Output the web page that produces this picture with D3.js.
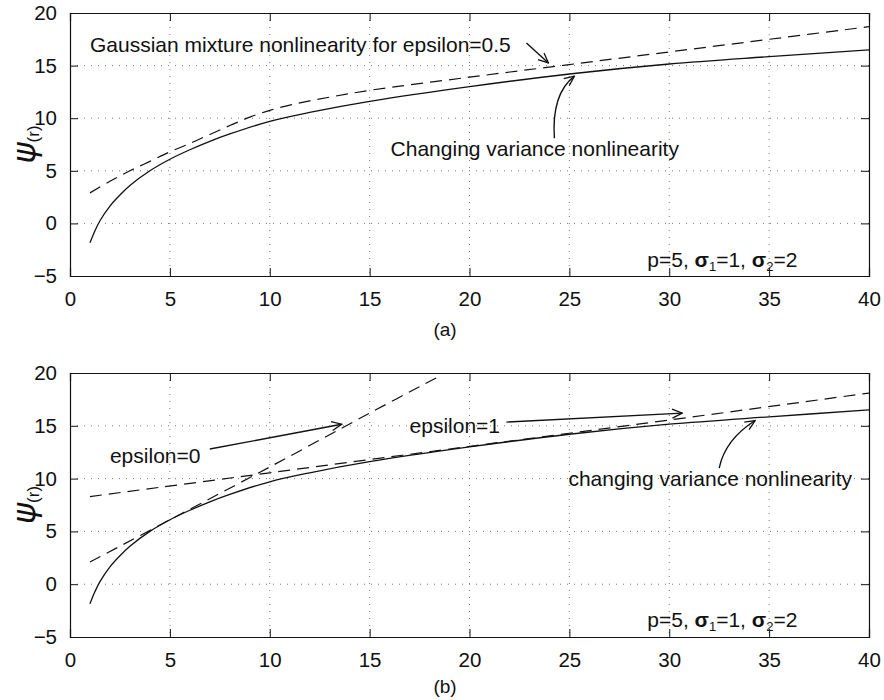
<!DOCTYPE html>
<html>
<head>
<meta charset="utf-8">
<script src="https://cdn.jsdelivr.net/npm/d3@7"></script>
<style>
  html, body { margin: 0; padding: 0; background: #fff; }
  svg { display: block; }
  text { font-family: "Liberation Sans", Arial, Helvetica, sans-serif; fill: #111; }
</style>
</head>
<body>
<svg id="chart" width="884" height="700"></svg>
<script>
// ---------------- data ----------------
const xTicks = [0, 5, 10, 15, 20, 25, 30, 35, 40];
const yTicks = [-5, 0, 5, 10, 15, 20];

// changing variance nonlinearity (solid, both panels)
const rChanging   = [1, 1.25, 1.5, 2, 2.5, 3, 4, 5, 6, 7, 8, 10, 12, 15, 20, 25, 30, 35, 40];
const psiChanging = [-1.85, -0.7, 0.25, 1.65, 2.7, 3.6, 5.0, 6.1, 7.0, 7.8, 8.5, 9.7, 10.55, 11.6, 13.0, 14.2, 15.15, 15.85, 16.5];

// Gaussian mixture nonlinearity, epsilon = 0.5 (dashed, panel a)
const rMix05   = [1, 2, 3, 4, 5, 6, 7, 8, 9, 10, 11, 12, 13, 15, 20, 25, 30, 35, 40];
const psiMix05 = [2.9, 4.0, 5.0, 5.9, 6.8, 7.6, 8.45, 9.3, 10.1, 10.75, 11.25, 11.65, 12.0, 12.65, 13.9, 15.1, 16.3, 17.5, 18.7];

// epsilon = 0 (dashed, panel b)
const rEps0   = [1, 5, 10, 15, 18.6];
const psiEps0 = [2.1, 6.1, 11.1, 16.2, 19.8];

// epsilon = 1 (dashed, panel b)
const rEps1   = [1, 10, 20, 30, 40];
const psiEps1 = [8.3, 10.55, 13.05, 15.55, 18.1];

// annotations (data coordinates)
const annotA = [
  { text: "Gaussian mixture nonlinearity for epsilon=0.5", x: 1.0, y: 16.25 },
  { text: "Changing variance nonlinearity", x: 16.05, y: 6.4 }
];
const arrowsA = [
  { pts: [[22.85, 17.15], [23.95, 15.25]], curved: false },
  { pts: [[24.25, 8.1], [24.1, 12.3], [25.25, 14.0]], curved: true }
];
const annotB = [
  { text: "epsilon=0", x: 2.0, y: 11.45 },
  { text: "epsilon=1", x: 17.0, y: 14.35 },
  { text: "changing variance nonlinearity", x: 24.95, y: 9.3 }
];
const arrowsB = [
  { pts: [[7.0, 12.8], [13.6, 15.15]], curved: false },
  { pts: [[21.85, 15.35], [30.65, 16.2]], curved: false },
  { pts: [[32.5, 11.0], [32.8, 13.7], [34.3, 15.5]], curved: true }
];
const paramPos = { x: 28.9, y: -4.1 };

// ---------------- layout ----------------
const svg = d3.select("#chart");
const left = 70, right = 869;
const panels = [
  { top: 13, bottom: 276, caption: "(a)", capY: 336, dashed: [[rMix05, psiMix05]], annots: annotA, arrows: arrowsA, id: "a" },
  { top: 373, bottom: 637, caption: "(b)", capY: 693, dashed: [[rEps0, psiEps0], [rEps1, psiEps1]], annots: annotB, arrows: arrowsB, id: "b" }
];

const defs = svg.append("defs");
defs.append("marker")
  .attr("id", "arrowhead")
  .attr("viewBox", "0 0 12 12")
  .attr("refX", 11).attr("refY", 6)
  .attr("markerWidth", 12).attr("markerHeight", 12)
  .attr("markerUnits", "userSpaceOnUse")
  .attr("orient", "auto")
  .append("path")
  .attr("d", "M1,1.5 L11,6 L1,10.5")
  .attr("fill", "none").attr("stroke", "#111").attr("stroke-width", 1.3);

panels.forEach(p => {
  const x = d3.scaleLinear().domain([0, 40]).range([left, right]);
  const y = d3.scaleLinear().domain([-5, 20]).range([p.bottom, p.top]);
  const g = svg.append("g");

  defs.append("clipPath").attr("id", "clip-" + p.id)
    .append("rect").attr("x", left).attr("y", p.top)
    .attr("width", right - left).attr("height", p.bottom - p.top);

  // grid
  g.append("g").selectAll("line").data(xTicks.slice(1, -1)).join("line")
    .attr("x1", d => x(d)).attr("x2", d => x(d))
    .attr("y1", p.top).attr("y2", p.bottom)
    .attr("stroke", "#777").attr("stroke-width", 1).attr("stroke-dasharray", "1,6");
  g.append("g").selectAll("line").data(yTicks.slice(1, -1)).join("line")
    .attr("y1", d => y(d)).attr("y2", d => y(d))
    .attr("x1", left).attr("x2", right)
    .attr("stroke", "#777").attr("stroke-width", 1).attr("stroke-dasharray", "1,6");

  // axes (MATLAB style, inward ticks on four sides)
  const tl = 8;
  const axB = d3.axisBottom(x).tickValues(xTicks).tickSize(-tl).tickPadding(tl + 7).tickFormat(d3.format("d"));
  const axT = d3.axisTop(x).tickValues(xTicks).tickSize(-tl).tickFormat("");
  const axL = d3.axisLeft(y).tickValues(yTicks).tickSize(-tl).tickPadding(tl + 5).tickFormat(d => d < 0 ? "\u2212" + Math.abs(d) : d);
  const axR = d3.axisRight(y).tickValues(yTicks).tickSize(-tl).tickFormat("");
  const gb = g.append("g").attr("transform", `translate(0,${p.bottom})`).call(axB);
  const gt = g.append("g").attr("transform", `translate(0,${p.top})`).call(axT);
  const gl = g.append("g").attr("transform", `translate(${left},0)`).call(axL);
  const gr = g.append("g").attr("transform", `translate(${right},0)`).call(axR);
  [gb, gt, gl, gr].forEach(a => {
    a.select(".domain").attr("stroke", "#111").attr("stroke-width", 1.2);
    a.selectAll(".tick line").attr("stroke", "#111").attr("stroke-width", 1);
    a.selectAll(".tick text").attr("font-size", 20.5).attr("fill", "#111")
      .attr("font-family", '"Liberation Sans", Arial, sans-serif');
  });
  gb.selectAll(".tick text").attr("dy", "0.71em");

  // lines
  const line = d3.line().x(d => x(d[0])).y(d => y(d[1])).curve(d3.curveCatmullRom.alpha(0.5));
  const lines = g.append("g").attr("clip-path", `url(#clip-${p.id})`);
  lines.append("path")
    .datum(rChanging.map((r, i) => [r, psiChanging[i]]))
    .attr("d", line).attr("fill", "none").attr("stroke", "#111").attr("stroke-width", 1.3);
  p.dashed.forEach(([rs, vs]) => {
    lines.append("path")
      .datum(rs.map((r, i) => [r, vs[i]]))
      .attr("d", line).attr("fill", "none").attr("stroke", "#111")
      .attr("stroke-width", 1.2).attr("stroke-dasharray", "12,7");
  });

  // annotations
  p.annots.forEach(a => {
    g.append("text").attr("x", x(a.x)).attr("y", y(a.y))
      .attr("font-size", 21).text(a.text);
  });
  p.arrows.forEach(a => {
    const pts = a.pts.map(q => [x(q[0]), y(q[1])]);
    let d;
    if (a.curved) d = `M${pts[0][0]},${pts[0][1]} Q${pts[1][0]},${pts[1][1]} ${pts[2][0]},${pts[2][1]}`;
    else d = `M${pts[0][0]},${pts[0][1]} L${pts[1][0]},${pts[1][1]}`;
    g.append("path").attr("d", d).attr("fill", "none").attr("stroke", "#111")
      .attr("stroke-width", 1.4).attr("marker-end", "url(#arrowhead)");
  });

  // parameter text
  const pt = g.append("text").attr("x", x(paramPos.x)).attr("y", y(paramPos.y)).attr("font-size", 21);
  pt.append("tspan").text("p=5, ");
  pt.append("tspan").attr("font-weight", "bold").text("\u03C3");
  pt.append("tspan").attr("font-size", 13).attr("dy", 4).text("1");
  pt.append("tspan").attr("dy", -4).text("=1, ");
  pt.append("tspan").attr("font-weight", "bold").text("\u03C3");
  pt.append("tspan").attr("font-size", 13).attr("dy", 4).text("2");
  pt.append("tspan").attr("dy", -4).text("=2");

  // y label
  const cy = (p.top + p.bottom) / 2;
  const yl = g.append("text").attr("transform", `translate(35,${cy}) rotate(-90)`)
    .attr("text-anchor", "middle");
  yl.append("tspan").attr("font-size", 32).attr("font-style", "italic")
    .attr("font-family", '"DejaVu Sans", sans-serif').text("\u03C8");
  yl.append("tspan").attr("font-size", 17).attr("dy", 4).text("(r)");

  // caption
  svg.append("text").attr("x", 445).attr("y", p.capY).attr("text-anchor", "middle")
    .attr("font-size", 19).attr("font-family", '"Liberation Serif", "Times New Roman", serif')
    .text(p.caption);
});
</script>
</body>
</html>
